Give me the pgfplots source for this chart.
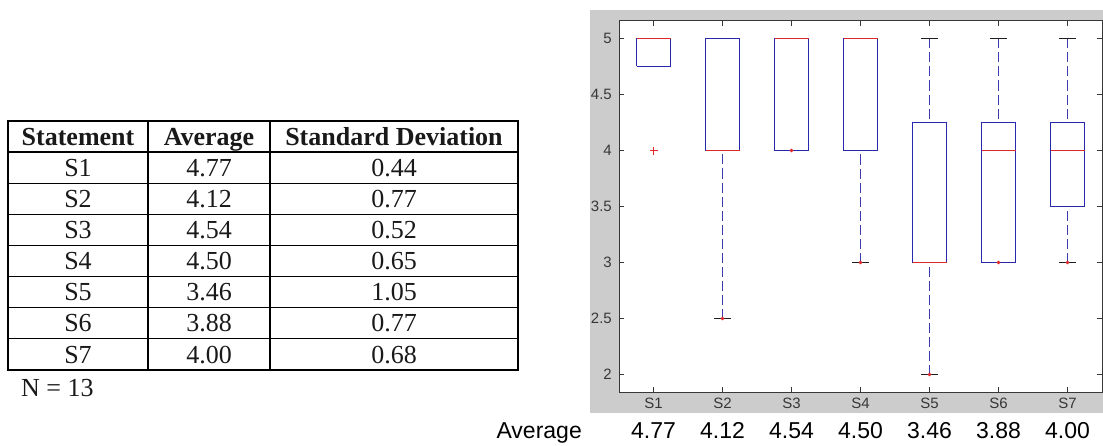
\documentclass[border=0pt]{standalone}
\usepackage{pgfplots}
\pgfplotsset{compat=1.18}
\usepackage{fontspec}
\setmainfont{Liberation Serif}
\newfontfamily\arial{Liberation Sans}
\definecolor{bggrey}{RGB}{204,204,204}
\definecolor{boxblue}{RGB}{40,40,175}
\definecolor{whiskblue}{RGB}{60,60,175}
\definecolor{medred}{RGB}{225,40,40}
\definecolor{axgrey}{RGB}{55,55,55}
\definecolor{capblack}{RGB}{30,30,30}
\definecolor{txt}{RGB}{25,25,25}
\pgfplotsset{
  bx/.style={boxblue, line width=1.2pt, solid, mark=none},
  md/.style={medred, line width=1.2pt, solid, mark=none},
  wk/.style={whiskblue, line width=1.2pt, dash pattern=on 10pt off 4pt, mark=none},
  cp/.style={capblack, line width=1.1pt, solid, mark=none},
  od/.style={medred, only marks, mark=*, mark size=1.7pt},
}
\begin{document}
\begin{tikzpicture}[x=1pt,y=1pt]
\useasboundingbox (0,0) rectangle (1103,445);
% ---------- table ----------
\begin{scope}[font=\fontsize{26}{31}\selectfont, text=txt]
\draw[line width=1.5pt, black] (8,75) rectangle (518,324);
\foreach \y in {292.9,261.7,230.6,199.5,168.4,137.3,106.2}
  \draw[line width=1.3pt, black] (8,\y) -- (518,\y);
\foreach \x in {148,270}
  \draw[line width=1.3pt, black] (\x,75) -- (\x,324);
\node[anchor=base, inner sep=0pt] at (78,299.9) {\bfseries Statement};
\node[anchor=base, inner sep=0pt] at (209,299.9) {\bfseries Average};
\node[anchor=base, inner sep=0pt] at (394,299.9) {\bfseries Standard Deviation};
\foreach \s/\a/\d/\b in {S1/4.77/0.44/268.7, S2/4.12/0.77/237.6, S3/4.54/0.52/206.5,
    S4/4.50/0.65/175.4, S5/3.46/1.05/144.3, S6/3.88/0.77/113.2, S7/4.00/0.68/82}{
  \node[anchor=base, inner sep=0pt] at (78,\b) {\s};
  \node[anchor=base, inner sep=0pt] at (209,\b) {\a};
  \node[anchor=base, inner sep=0pt] at (394,\b) {\d};
}
\node[anchor=base west, inner sep=0pt] at (21,49) {N = 13};
\end{scope}
% ---------- chart ----------
\fill[bggrey] (590,32) rectangle (1103,435);
\begin{axis}[
  at={(619pt,53pt)}, anchor=south west,
  scale only axis, width=483pt, height=371pt,
  xmin=0.5, xmax=7.5, ymin=1.84375, ymax=5.15625,
  clip=false,
  axis background/.style={fill=white},
  axis line style={color=axgrey, line width=1pt},
  tick align=inside, tick pos=both,
  major tick length=5pt,
  tick style={color=axgrey, line width=0.9pt},
  xtick={1,2,3,4,5,6,7},
  xticklabels={S1,S2,S3,S4,S5,S6,S7},
  ytick={2,2.5,3,3.5,4,4.5,5},
  /pgf/number format/assume math mode=true,
  ticklabel style={font=\arial\fontsize{15}{15}\selectfont, text=axgrey},
  yticklabel style={inner sep=0pt, xshift=-7pt},
  xticklabel style={inner sep=0pt, yshift=-6pt},
]
% --- S1: lw 4.75, q1 4.75, med 5, q3 5, uw 5, outlier 4
\addplot[bx] coordinates {(0.7536,4.75)(1.2464,4.75)(1.2464,5)(0.7536,5)(0.7536,4.75)};
\addplot[md] coordinates {(0.7536,5)(1.2464,5)};
\addplot[medred, only marks, mark=+, mark size=4pt, line width=1pt] coordinates {(1,4)};
% --- S2: lw 2.5, q1 4, med 4, q3 5, uw 5
\addplot[wk] coordinates {(2,2.5)(2,4)};
\addplot[cp] coordinates {(1.875,2.5)(2.125,2.5)};
\addplot[bx] coordinates {(1.7536,4)(2.2464,4)(2.2464,5)(1.7536,5)(1.7536,4)};
\addplot[md] coordinates {(1.7536,4)(2.2464,4)};
\addplot[od] coordinates {(2,2.5)};
% --- S3: lw 4, q1 4, med 5, q3 5, uw 5
\addplot[bx] coordinates {(2.7536,4)(3.2464,4)(3.2464,5)(2.7536,5)(2.7536,4)};
\addplot[md] coordinates {(2.7536,5)(3.2464,5)};
\addplot[od] coordinates {(3,4)};
% --- S4: lw 3, q1 4, med 5, q3 5, uw 5
\addplot[wk] coordinates {(4,3)(4,4)};
\addplot[cp] coordinates {(3.875,3)(4.125,3)};
\addplot[bx] coordinates {(3.7536,4)(4.2464,4)(4.2464,5)(3.7536,5)(3.7536,4)};
\addplot[md] coordinates {(3.7536,5)(4.2464,5)};
\addplot[od] coordinates {(4,3)};
% --- S5: lw 2, q1 3, med 3, q3 4.25, uw 5
\addplot[wk] coordinates {(5,2)(5,3)};
\addplot[wk] coordinates {(5,5)(5,4.25)};
\addplot[cp] coordinates {(4.875,2)(5.125,2)};
\addplot[cp] coordinates {(4.875,5)(5.125,5)};
\addplot[bx] coordinates {(4.7536,3)(5.2464,3)(5.2464,4.25)(4.7536,4.25)(4.7536,3)};
\addplot[md] coordinates {(4.7536,3)(5.2464,3)};
\addplot[od] coordinates {(5,2)};
% --- S6: lw 3, q1 3, med 4, q3 4.25, uw 5
\addplot[wk] coordinates {(6,5)(6,4.25)};
\addplot[cp] coordinates {(5.875,5)(6.125,5)};
\addplot[bx] coordinates {(5.7536,3)(6.2464,3)(6.2464,4.25)(5.7536,4.25)(5.7536,3)};
\addplot[md] coordinates {(5.7536,4)(6.2464,4)};
\addplot[od] coordinates {(6,3)};
% --- S7: lw 3, q1 3.5, med 4, q3 4.25, uw 5
\addplot[wk] coordinates {(7,3)(7,3.5)};
\addplot[wk] coordinates {(7,5)(7,4.25)};
\addplot[cp] coordinates {(6.875,3)(7.125,3)};
\addplot[cp] coordinates {(6.875,5)(7.125,5)};
\addplot[bx] coordinates {(6.7536,3.5)(7.2464,3.5)(7.2464,4.25)(6.7536,4.25)(6.7536,3.5)};
\addplot[md] coordinates {(6.7536,4)(7.2464,4)};
\addplot[od] coordinates {(7,3)};
\end{axis}
% ---------- average row ----------
\begin{scope}[font=\arial\fontsize{23}{23}\selectfont, text=black]
\node[anchor=base east, inner sep=0pt] at (582,7) {Average};
\foreach \i/\v in {1/4.77, 2/4.12, 3/4.54, 4/4.50, 5/3.46, 6/3.88, 7/4.00}
  \node[anchor=base, inner sep=0pt] at ({619+69*(\i-0.5)},7) {\v};
\end{scope}
\end{tikzpicture}
\end{document}
